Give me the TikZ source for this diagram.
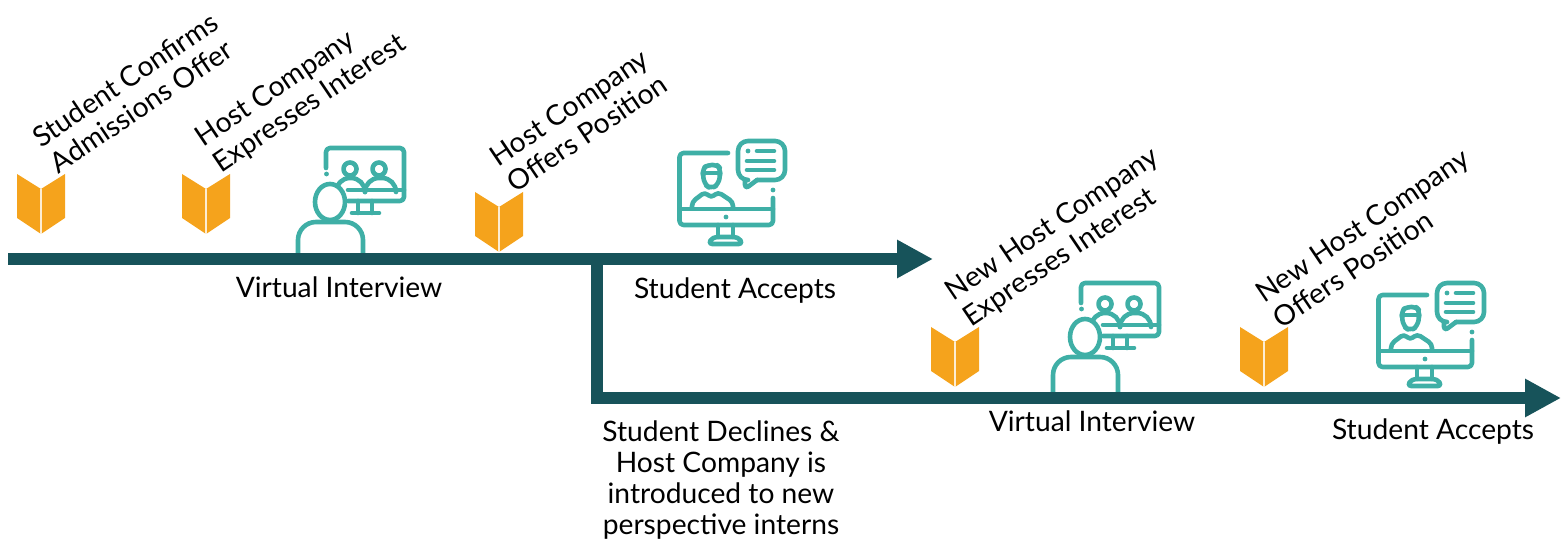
\documentclass[tikz,border=0pt]{standalone}
\usepackage{fontspec}
\setmainfont{Lato}
\usepackage{tikz}
\usetikzlibrary{arrows.meta,positioning}
\definecolor{TimelineTeal}{HTML}{17535A}
\definecolor{IconTeal}{HTML}{3FAFA6}
\definecolor{BookOrange}{HTML}{F5A31C}
\tikzset{
  x=0.5pt,
  y=-0.5pt,
  every node/.style={
    font=\fontsize{14.1pt}{15.6pt}\selectfont,
    text=black
  },
  milestone/.style={
    rotate=34,
    anchor=west,
    align=left,
    inner sep=0pt
  },
  steplabel/.style={
    align=center,
    inner sep=0pt
  },
  timeline/.style={
    draw=TimelineTeal,
    line width=6pt
  },
  timeline arrow/.style={
    timeline,
    -{Triangle[length=18pt,width=18pt,fill=TimelineTeal]}
  },
  icon line/.style={
    draw=IconTeal,
    line width=2.3pt,
    line cap=round,
    line join=round,
    rounded corners=2pt
  },
  book/.pic={
    \fill [BookOrange] (-24,0) -- (0,15) -- (24,0) -- (24,44) -- (0,60) -- (-24,44) -- cycle;
    \draw [white!80!BookOrange, line width=1pt] (0,15) -- (0,60);
  },
  interview icon/.pic={
    \draw [icon line] (46,38) -- (46,18) -- (124,18) -- (124,71) -- (68,71);
    \fill [IconTeal] (46.5,44) circle (2.4);
    \draw [icon line] (68,60) -- (124,60);
    \draw [icon line] (78,71) -- (78,83) (92,71) -- (92,83) (72,83) -- (99,83);
    \draw [icon line] (70,39) circle (6.5) (99,39) circle (6.5);
    \draw [icon line, rounded corners=7pt] (56,60) -- (56,48) -- (85,48) -- (85,60);
    \draw [icon line, rounded corners=7pt] (85,60) -- (85,48) -- (116,48) -- (116,60);
    \draw [icon line, fill=white] (50,72) ellipse (15 and 18);
    \draw [icon line, fill=white, rounded corners=9pt] (18,130) -- (18,92) -- (83,92) -- (83,130);
  },
  accept icon/.pic={
    \draw [icon line] (63,23) -- (14.5,23) -- (14.5,95) -- (108,95) -- (108,68);
    \fill [IconTeal] (108,60) circle (2.4) (61,87) circle (2.4);
    \draw [icon line] (14.5,79) -- (108,79);
    \draw [icon line] (53,95) -- (53,107) (68,95) -- (68,107);
    \draw [icon line] (48,107) -- (73,107) -- (78,114) -- (43,114) -- cycle;
    % chat bubble
    \draw [icon line, rounded corners=5pt] (80,50) -- (73,50) -- (73,11) -- (120,11) -- (120,50) -- (92,50);
    \draw [icon line] (92,50) -- (80,59) -- (80,50);
    \fill [IconTeal] (83,21) circle (2.4);
    \draw [icon line] (92,21) -- (109,21) (82,31) -- (109,31) (82,40) -- (109,40);
    % person
    \draw [icon line] (38,45) -- (38,38) -- (43,35) -- (52,35) -- (55,38) -- (55,45);
    \draw [icon line] (38,43) -- (55,43);
    \draw [icon line, rounded corners=3pt] (38,43) -- (39,54) -- (46,59) -- (54,54) -- (55,43);
    \draw [icon line] (27,78) -- (27,72) -- (40,62) -- (46,68) -- (53,62) -- (68,72) -- (68,78);
  }
}
\begin{document}
\begin{tikzpicture}
\useasboundingbox (0,0) rectangle (1561,539);

% icons sit under the timelines
\pic at (41,174) {book};
\pic at (206,174) {book};
\pic at (499,192) {book};
\pic at (955,327) {book};
\pic at (1264,327) {book};
\pic at (280,130) {interview icon};
\pic at (1035,265) {interview icon};
\pic at (665,130) {accept icon};
\pic at (1364,272) {accept icon};

\coordinate (start) at (8,259);
\coordinate (firstEnd) at (933,259);
\coordinate (branch) at (597,259);
\coordinate (corner) at (597,398);
\coordinate (secondEnd) at (1561,398);

\draw [timeline arrow] (start) -- (firstEnd);
\draw [timeline arrow, line join=miter] (branch) -- (corner) -- (secondEnd);

\node [milestone] (confirms) at (44,153) {Student Confirms\\Admissions Offer};
\node [milestone] (expresses) at (208,154) {Host Company\\Expresses Interest};
\node [milestone] (offers) at (501,172) {Host Company\\Offers Position};
\node [milestone] (newExpresses) at (958,308) {New Host Company\\Expresses Interest};
\node [milestone] (newOffers) at (1267,308) {New Host Company\\Offers Position};

\node [steplabel] (interview) at (339,287) {Virtual Interview};
\node [steplabel] (accepts) at (735,291) {Student Accepts};
\node [steplabel] (newInterview) at (1092,421) {Virtual Interview};
\node [steplabel] (newAccepts) at (1433,432) {Student Accepts};
\node [steplabel] (declines) at (721,480) {Student Declines \&\\Host Company is\\introduced to new\\perspective interns};

\end{tikzpicture}
\end{document}
